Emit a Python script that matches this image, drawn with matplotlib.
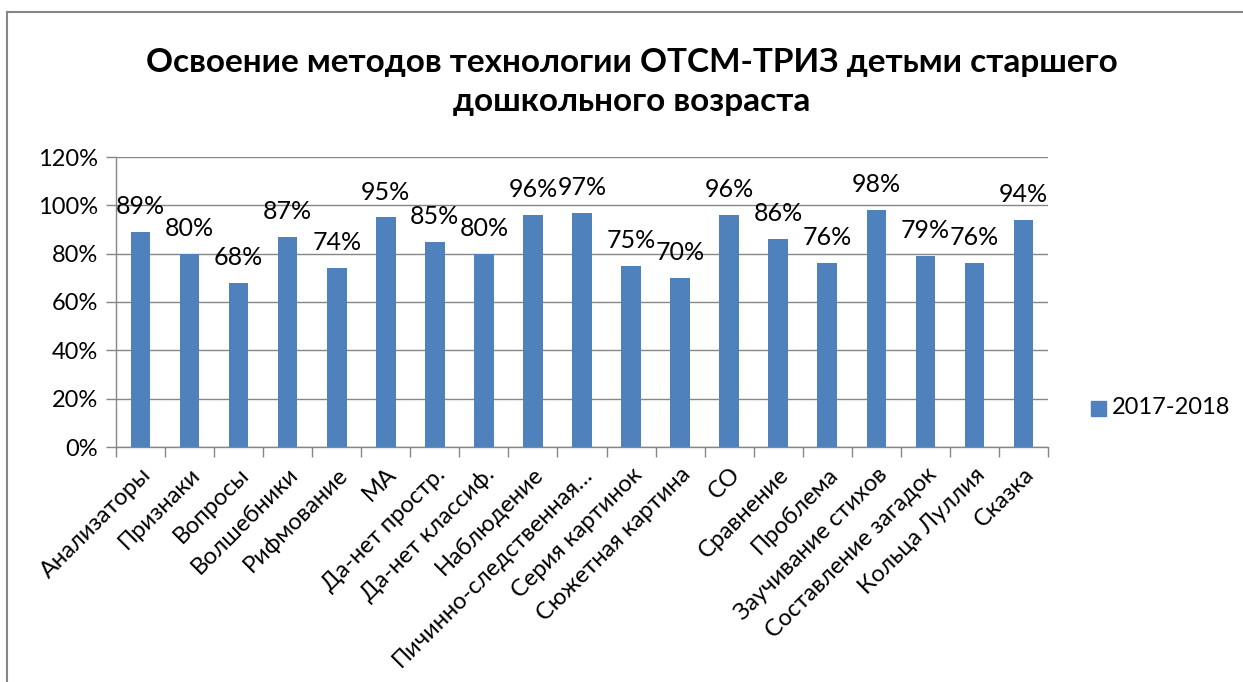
import matplotlib
matplotlib.use("Agg")
import matplotlib.pyplot as plt
from matplotlib.lines import Line2D
from matplotlib.patches import Rectangle
from matplotlib.ticker import FuncFormatter, MultipleLocator

categories = [
    "Анализаторы", "Признаки", "Вопросы", "Волшебники", "Рифмование", "МА",
    "Да-нет простр.", "Да-нет классиф.", "Наблюдение", "Пичинно-следственная…",
    "Серия картинок", "Сюжетная картина", "СО", "Сравнение", "Проблема",
    "Заучивание стихов", "Составление загадок", "Кольца Луллия", "Сказка",
]
values = [89, 80, 68, 87, 74, 95, 85, 80, 96, 97, 75, 70, 96, 86, 76, 98, 79, 76, 94]
series_name = "2017-2018"
title = "Освоение методов технологии ОТСМ-ТРИЗ детьми старшего\nдошкольного возраста"

plt.rcParams["font.family"] = ["Lato", "DejaVu Sans"]

W, H = 1243, 682
fig = plt.figure(figsize=(W / 100, H / 100), dpi=100)
ax = fig.add_axes([116 / W, 1 - 447 / H, (1048 - 116) / W, (447 - 157) / H])

bar_color = "#4F81BD"
grid_color = "#868686"
x = range(len(categories))
bars = ax.bar(x, values, width=0.4, color=bar_color, label=series_name, zorder=3)

for rect, v in zip(bars, values):
    ax.text(rect.get_x() + rect.get_width() / 2, v + 10.5, f"{v}%",
            ha="center", va="center", fontsize=18)

ax.set_xlim(-0.5, len(categories) - 0.5)
ax.set_ylim(0, 120)
ax.yaxis.set_major_locator(MultipleLocator(20))
ax.yaxis.set_major_formatter(FuncFormatter(lambda v, _: f"{v:.0f}%"))
ax.grid(axis="y", color=grid_color, linewidth=1, zorder=0)

ax.set_xticks([i - 0.5 for i in range(len(categories) + 1)], minor=False)
ax.set_xticklabels([])
ax.set_xticks(list(x), minor=True)
ax.set_xticklabels(categories, minor=True, rotation=45, ha="right",
                   rotation_mode="anchor", fontsize=17)
ax.tick_params(axis="x", which="minor", length=0, pad=12)
ax.tick_params(axis="x", which="major", length=7, color=grid_color, width=1)
ax.tick_params(axis="y", length=7, color=grid_color, width=1, labelsize=17, pad=6)

for side in ["top", "right"]:
    ax.spines[side].set_visible(False)
for side in ["left", "bottom"]:
    ax.spines[side].set_color(grid_color)
    ax.spines[side].set_linewidth(1)

fig.text(632 / W, 1 - 82 / H, title, ha="center", va="center",
         fontsize=24, fontweight="bold", linespacing=1.45)

# legend: single square marker + series name
fig.add_artist(Rectangle((1091 / W, 1 - 416 / H), 15 / W, 15 / H,
                         transform=fig.transFigure, color=bar_color))
fig.text(1112 / W, 1 - 408 / H, series_name, ha="left", va="center", fontsize=17)

# outer chart border (partly cropped in the reference)
fig.add_artist(Line2D([7 / W, 7 / W], [0, 1 - 12 / H], color=grid_color, lw=1.5))
fig.add_artist(Line2D([7 / W, 1], [1 - 12 / H, 1 - 12 / H], color=grid_color, lw=1.5))

fig.savefig("out.png", dpi=100)
